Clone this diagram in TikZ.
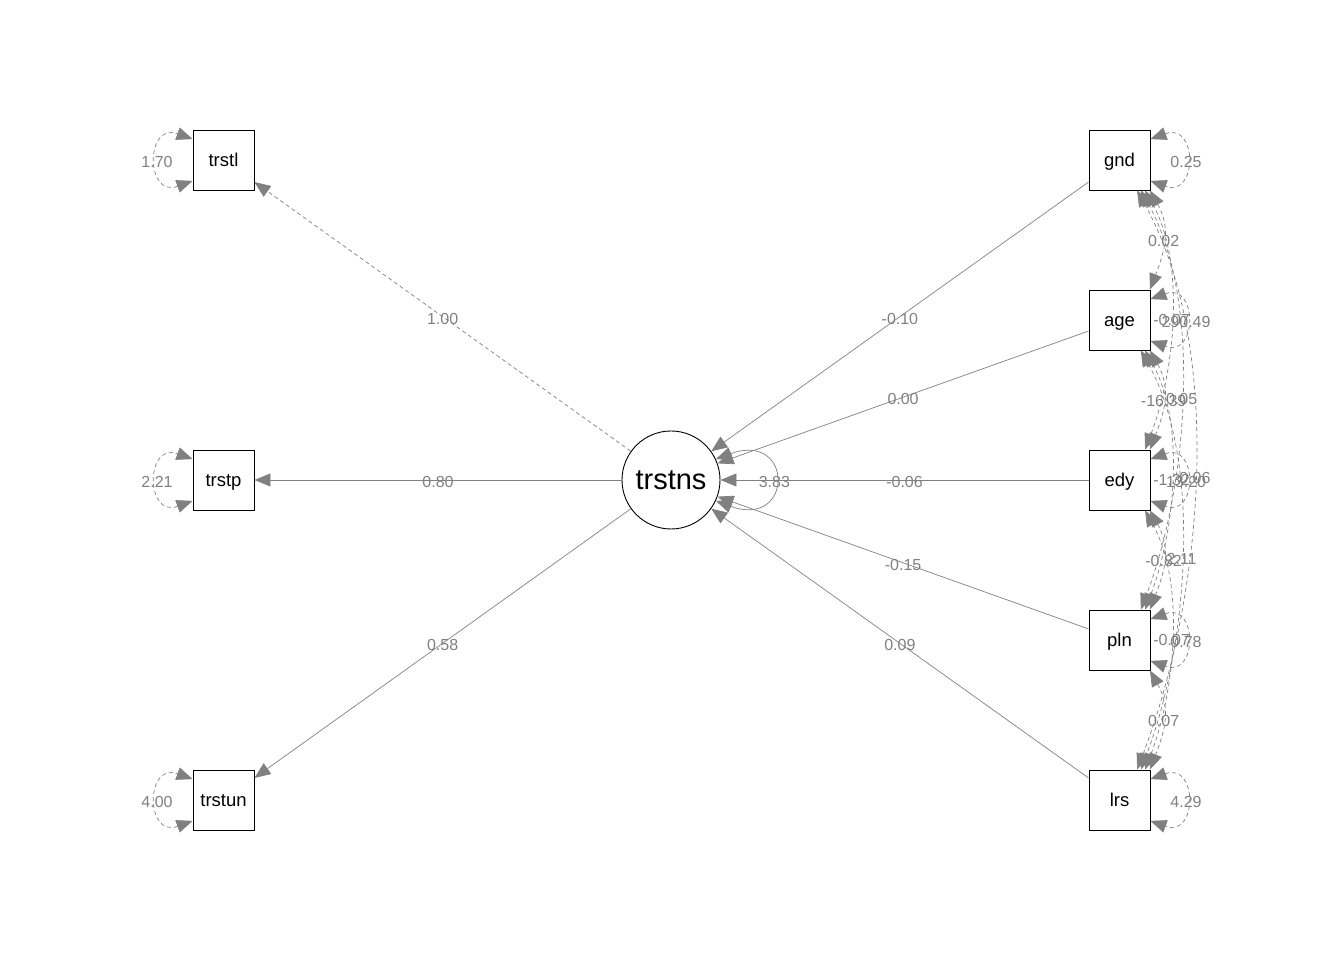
\documentclass[tikz,border=0pt]{standalone}
\usepackage{fontspec}
\setmainfont{Liberation Sans}
\usetikzlibrary{arrows.meta}

\tikzset{
	semtip/.tip={Triangle[length=16pt,width=13pt]},
	obs/.style={draw, line width=0.9pt, minimum width=61pt, minimum height=60pt, inner sep=0pt, text height=13.5pt, text depth=0pt, font=\fontsize{18.5}{20}\selectfont},
	lat/.style={draw, circle, line width=0.9pt, minimum size=98pt, inner sep=0pt, font=\fontsize{29}{30}\selectfont},
	lab/.style={text=gray, font=\fontsize{16}{16}\selectfont, inner sep=0pt, yshift=-2pt},
	load/.style={draw=gray, line width=0.7pt, -semtip},
	fixed/.style={load, dash pattern=on 4pt off 3pt},
	latvar/.style={draw=gray, line width=0.7pt, semtip-semtip},
	var/.style={latvar, dash pattern=on 4pt off 3pt},
	cov/.style={var}
}

\begin{document}
\begin{tikzpicture}[x=1pt, y=1pt]
	\useasboundingbox (0,0) rectangle (1344,960);
	%Variabile latente
	\node [lat, text height=20pt, text depth=0pt] (trstns) at (671,480) {trstns};
	%Indicatori
	\node [obs] (trstl) at (223.5,800) {trstl};
	\node [obs] (trstp) at (223.5,480) {trstp};
	\node [obs] (trstun) at (223.5,160) {trstun};
	%Covariate
	\node [obs] (gnd) at (1119.5,800) {gnd};
	\node [obs] (age) at (1119.5,640) {age};
	\node [obs] (edy) at (1119.5,480) {edy};
	\node [obs] (pln) at (1119.5,320) {pln};
	\node [obs] (lrs) at (1119.5,160) {lrs};
	%Carichi
	\draw [fixed] (trstns) -- (trstl) node [lab, pos=0.5] {1.00};
	\draw [load] (trstns) -- (trstp) node [lab, pos=0.5] {0.80};
	\draw [load] (trstns) -- (trstun) node [lab, pos=0.5] {0.58};
	%Regressioni
	\draw [load] (gnd) -- (trstns) node [lab, pos=0.5] {-0.10};
	\draw [load] (age) -- (trstns) node [lab, pos=0.5] {0.00};
	\draw [load] (edy) -- (trstns) node [lab, pos=0.5] {-0.06};
	\draw [load] (pln) -- (trstns) node [lab, pos=0.5] {-0.15};
	\draw [load] (lrs) -- (trstns) node [lab, pos=0.5] {0.09};
	%Varianze
	\draw [var] (trstl.214) to [out=200, in=160, looseness=3.1] node [lab] {1.70} (trstl.146);
	\draw [var] (trstp.214) to [out=200, in=160, looseness=3.1] node [lab] {2.21} (trstp.146);
	\draw [var] (trstun.214) to [out=200, in=160, looseness=3.1] node [lab] {4.00} (trstun.146);
	\draw [latvar] (trstns.-25) to [out=-20, in=20, looseness=5.1] node [lab] {3.83} (trstns.25);
	\draw [var] (gnd.34) to [out=20, in=-20, looseness=3.1] node [lab] {0.25} (gnd.-34);
	\draw [var] (age.34) to [out=20, in=-20, looseness=3.1] node [lab] {290.49} (age.-34);
	\draw [var] (edy.34) to [out=20, in=-20, looseness=3.1] node [lab] {13.20} (edy.-34);
	\draw [var] (pln.34) to [out=20, in=-20, looseness=3.1] node [lab] {0.78} (pln.-34);
	\draw [var] (lrs.34) to [out=20, in=-20, looseness=3.1] node [lab] {4.29} (lrs.-34);
	%Covarianze
	\draw [cov] (gnd.-45) to [out=-61, in=69, looseness=1.12] node [lab] {0.02} (age.45);
	\draw [cov] (gnd.-50) to [out=-61, in=69, looseness=0.83] node [lab] {-0.07} (edy.50);
	\draw [cov] (gnd.-55) to [out=-61, in=69, looseness=0.79] node [lab] {0.05} (pln.55);
	\draw [cov] (gnd.-60) to [out=-61, in=69, looseness=0.81] node [lab] {0.06} (lrs.60);
	\draw [cov] (age.-45) to [out=-61, in=69, looseness=1.12] node [lab] {-16.39} (edy.45);
	\draw [cov] (age.-50) to [out=-61, in=69, looseness=0.83] node [lab] {-1.32} (pln.50);
	\draw [cov] (age.-55) to [out=-61, in=69, looseness=0.79] node [lab] {2.11} (lrs.55);
	\draw [cov] (edy.-45) to [out=-61, in=69, looseness=1.12] node [lab] {-0.82} (pln.45);
	\draw [cov] (edy.-50) to [out=-61, in=69, looseness=0.83] node [lab] {-0.07} (lrs.50);
	\draw [cov] (pln.-45) to [out=-61, in=69, looseness=1.12] node [lab] {0.07} (lrs.45);
\end{tikzpicture}
\end{document}
